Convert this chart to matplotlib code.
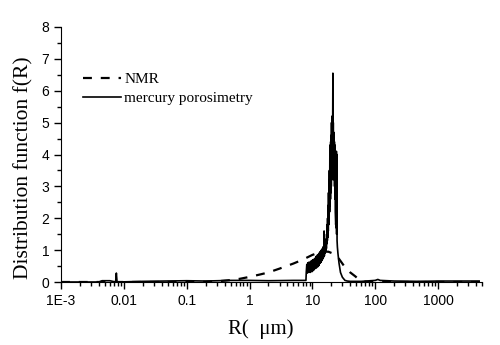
"""Distribuicao de tamanho de poros: NMR x porosimetria de mercurio."""
import matplotlib
matplotlib.use("Agg")
import matplotlib.pyplot as plt
from matplotlib.ticker import LogLocator, FixedLocator, MultipleLocator, NullFormatter

# curva NMR (tracejada)
nmr_r = [0.001, 0.01, 0.1, 0.2, 0.3, 0.5, 0.7, 1.0, 1.5, 2.0, 3.0, 5.0, 7.0, 10.0,
         14.0, 18.0, 22.0, 26.0, 32.0, 40.0, 48.0, 55.0, 65.0, 80.0, 100.0, 1000.0, 5000.0]
nmr_f = [0.0, 0.0, 0.0, 0.01, 0.02, 0.06, 0.1, 0.16, 0.24, 0.3, 0.42, 0.58, 0.7, 0.85,
         0.95, 0.95, 0.88, 0.75, 0.5, 0.3, 0.18, 0.08, 0.02, 0.0, 0.0, 0.0, 0.0]

# curva porosimetria de mercurio (continua, muito ruidosa entre 8 e 25 um)
hg_r = [0.001, 0.004, 0.0045, 0.006, 0.0074, 0.0076, 0.0078, 0.02, 0.05, 0.1, 0.2, 0.5,
        1.0, 2.0, 5.0, 7.6, 7.9,
        8.0, 8.15, 8.3, 8.45, 8.6, 8.75, 8.9, 9.05, 9.2, 9.35, 9.5, 9.65, 9.8, 9.95,
        10.1, 10.25, 10.4, 10.55, 10.7, 10.85, 11.0, 11.15, 11.3, 11.45, 11.6, 11.75,
        11.9, 12.05, 12.2, 12.35, 12.5, 12.65, 12.8, 12.95, 13.1, 13.25, 13.4, 13.55,
        13.7, 13.85, 14.0, 14.15, 14.3, 14.45, 14.6, 14.75, 14.9, 15.05, 15.2, 15.35,
        15.5, 15.65, 15.8, 15.95, 16.1, 16.25, 16.4, 16.55, 16.7, 16.85, 17.0,
        17.15, 17.3, 17.45, 17.6, 17.75, 17.9, 18.05, 18.2, 18.35, 18.5, 18.65, 18.8,
        18.95, 19.1, 19.25, 19.4, 19.55, 19.7, 19.85, 20.0, 20.15, 20.3, 20.45, 20.6,
        20.75, 20.9, 21.05, 21.2, 21.35, 21.5, 21.65, 21.8, 21.95, 22.1, 22.25, 22.4,
        22.55, 22.7, 22.85, 23.0, 23.15, 23.3, 23.5, 23.7, 23.9, 24.1, 24.3, 24.5, 24.7,
        25.0, 25.5, 26.5, 28.0, 30.0, 33.0, 36.0, 40.0, 60.0, 100.0, 110.0, 120.0,
        200.0, 500.0, 1000.0, 4500.0]
hg_f = [0.0, 0.0, 0.04, 0.04, 0.0, 0.28, 0.0, 0.02, 0.03, 0.04, 0.03, 0.05,
        0.05, 0.04, 0.05, 0.05, 0.05,
        0.32, 0.55, 0.28, 0.6, 0.3, 0.62, 0.33, 0.58, 0.3, 0.65, 0.35, 0.6, 0.32, 0.68,
        0.38, 0.7, 0.36, 0.66, 0.4, 0.74, 0.42, 0.72, 0.45, 0.8, 0.44, 0.78,
        0.5, 0.85, 0.48, 0.82, 0.55, 0.9, 0.52, 0.88, 0.58, 0.95, 0.6, 0.92,
        0.62, 1.0, 0.66, 0.98, 0.7, 1.05, 0.72, 1.1, 0.75, 1.08, 0.8, 1.6,
        0.82, 1.15, 0.9, 1.2, 0.95, 1.25, 1.0, 1.35, 1.05, 1.5, 1.2,
        1.8, 1.3, 2.0, 1.4, 2.4, 1.6, 2.8, 1.8, 3.2, 2.0, 3.5, 2.2,
        3.9, 2.4, 4.3, 2.6, 4.4, 2.8, 4.6, 3.0, 5.0, 3.2, 5.2, 3.4,
        4.8, 3.6, 5.6, 6.55, 3.8, 5.0, 3.6, 4.7, 3.4, 4.5, 3.2, 4.4,
        3.0, 4.3, 2.6, 4.2, 2.2, 2.0, 1.8, 1.9, 1.7, 4.1, 1.5, 4.0, 1.3,
        1.1, 0.9, 0.6, 0.3, 0.15, 0.05, 0.03, 0.02, 0.02, 0.05, 0.08, 0.05,
        0.03, 0.02, 0.03, 0.03]

xticks = [0.001, 0.01, 0.1, 1, 10, 100, 1000]
xtick_labels = ["1E-3", "0.01", "0.1", "1", "10", "100", "1000"]

fig = plt.figure(figsize=(5, 3.45), dpi=100)
ax = fig.add_axes([61 / 500, 63 / 345, 421 / 500, 255 / 345])

ax.plot(nmr_r, nmr_f, ls=(0, (4, 4)), color="black", lw=1.6, label="NMR")
ax.plot(hg_r, hg_f, "-", color="black", lw=1.2, label="mercury porosimetry")

ax.set_xscale("log")
ax.set_xlim(0.001, 5000)
ax.set_ylim(0, 8)
ax.xaxis.set_major_locator(FixedLocator(xticks))
ax.set_xticklabels(xtick_labels)
ax.xaxis.set_minor_locator(LogLocator(base=10, subs=range(2, 10), numticks=20))
ax.xaxis.set_minor_formatter(NullFormatter())
ax.yaxis.set_major_locator(MultipleLocator(1))
ax.yaxis.set_minor_locator(MultipleLocator(0.5))

for s in ["top", "right"]:
    ax.spines[s].set_visible(False)
ax.tick_params(which="major", direction="out", length=5, width=1,
               labelsize=10, labelfontfamily="Liberation Sans", colors="black")
ax.tick_params(which="minor", direction="out", length=3, width=1)

ax.set_xlabel("R(  \u03bcm)", fontsize=15, family="Liberation Serif", labelpad=8)
ax.xaxis.label.set_x(0.475)
ax.set_ylabel("Distribution function f(R)", fontsize=15.5, family="Liberation Serif",
              labelpad=6)
ax.yaxis.label.set_y(0.45)

ax.legend(loc="upper left", bbox_to_anchor=(0.038, 0.845), frameon=False,
          prop={"family": "Liberation Serif", "size": 11}, handlelength=2.5,
          handletextpad=0.2, labelspacing=0.35, borderaxespad=0)

fig.savefig("out.png", dpi=100)
